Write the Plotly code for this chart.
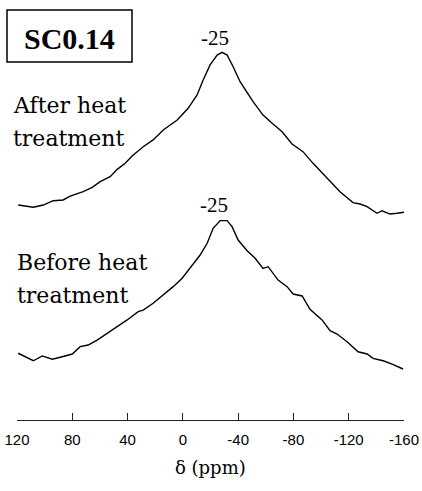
import plotly.graph_objects as go

# chemical shift (ppm) and intensities (a.u.)
after_ppm = [119.1, 108.2, 101.0, 93.8, 86.6, 81.5, 72.1, 65.6, 59.8, 52.6, 47.5, 41.7, 36.7, 32.3,
             28.7, 21.5, 14.2, 4.1, -3.8, -10.3, -14.7, -19.7, -24.8, -28.4, -32.0, -36.4, -41.4,
             -50.8, -58.0, -64.6, -71.8, -79.0, -86.9, -94.2, -104.3, -113.7, -123.1, -128.2,
             -133.3, -140.5, -144.1, -149.9, -154.9, -160.0]
after_int = [0.033, 0.018, 0.033, 0.062, 0.067, 0.093, 0.122, 0.151, 0.189, 0.222, 0.271, 0.311,
             0.360, 0.393, 0.422, 0.467, 0.533, 0.600, 0.678, 0.767, 0.867, 0.967, 1.033, 1.051,
             1.033, 0.955, 0.855, 0.722, 0.633, 0.578, 0.522, 0.440, 0.389, 0.311, 0.211, 0.122,
             0.049, 0.040, 0.022, -0.022, -0.005, -0.027, -0.022, -0.015]

before_ppm = [119.1, 108.2, 101.7, 94.5, 87.3, 80.0, 74.3, 68.5, 62.0, 54.7, 47.5, 40.3, 32.3, 28.7,
              21.5, 14.2, 7.0, 0.5, -5.3, -12.5, -17.6, -21.9, -27.0, -32.0, -35.6, -40.0, -46.5,
              -52.3, -58.0, -61.7, -68.9, -75.4, -79.8, -86.3, -92.0, -100.7, -106.5, -111.6,
              -118.8, -126.8, -133.3, -137.6, -144.9, -151.4, -159.3]
before_int = [0.045, -0.005, 0.027, 0.005, 0.022, 0.040, 0.089, 0.100, 0.133, 0.178, 0.222, 0.267,
              0.322, 0.333, 0.378, 0.433, 0.489, 0.545, 0.611, 0.700, 0.778, 0.878, 0.929, 0.929,
              0.889, 0.800, 0.729, 0.678, 0.611, 0.622, 0.533, 0.489, 0.440, 0.427, 0.338, 0.267,
              0.195, 0.173, 0.122, 0.055, 0.040, 0.011, -0.005, -0.027, -0.060]

after_offset = 1.4
before_offset = 0.4

x_ticks = [120, 80, 40, 0, -40, -80, -120, -160]
x_tick_labels = ["120", "80", "40", "0", "-40", "-80", "-120", "-160"]

peak_label = "-25"
sample_label = "SC0.14"

fig = go.Figure()
fig.add_trace(go.Scatter(x=after_ppm, y=[v + after_offset for v in after_int], mode="lines",
                         line=dict(color="black", width=1.4), showlegend=False, hoverinfo="skip"))
fig.add_trace(go.Scatter(x=before_ppm, y=[v + before_offset for v in before_int], mode="lines",
                         line=dict(color="black", width=1.4), showlegend=False, hoverinfo="skip"))

serif = "DejaVu Serif"

def ann(text, x, y, size, family=serif, xanchor="center", bold=False, xref="x", yref="y"):
    fig.add_annotation(text=("<b>%s</b>" % text) if bold else text, x=x, y=y, xref=xref, yref=yref,
                       showarrow=False, xanchor=xanchor, yanchor="middle",
                       font=dict(family=family, size=size, color="black"))

# peak labels
ann(peak_label, -23, 2.547, 21, family="Liberation Serif")
ann(peak_label, -22.5, 1.433, 21, family="Liberation Serif")

# spectrum labels (paper coordinates)
def py2paper(py):
    return (420 - py) / 420

def px2paper(px):
    return (px - 17) / 387

ann("After heat", px2paper(11), py2paper(105), 22, xanchor="left", xref="paper", yref="paper")
ann("treatment", px2paper(11), py2paper(138), 22, xanchor="left", xref="paper", yref="paper")
ann("Before heat", px2paper(15), py2paper(262), 22, xanchor="left", xref="paper", yref="paper")
ann("treatment", px2paper(15), py2paper(295), 22, xanchor="left", xref="paper", yref="paper")

# sample box
fig.add_shape(type="rect", xref="paper", yref="paper",
              x0=px2paper(7), x1=px2paper(132), y0=py2paper(62), y1=py2paper(10),
              line=dict(color="black", width=1.5))
ann(sample_label, px2paper(69.5), py2paper(38), 30, family="Liberation Serif", bold=True,
    xref="paper", yref="paper")

# axis title
ann("δ (ppm)", 0.5, py2paper(467), 18, xref="paper", yref="paper")

fig.update_layout(
    width=422, height=491,
    margin=dict(l=17, r=18, t=0, b=71),
    paper_bgcolor="white", plot_bgcolor="white",
    xaxis=dict(range=[120, -160], tickvals=x_ticks, ticktext=x_tick_labels,
               showgrid=False, zeroline=False, showline=True, linecolor="#222", linewidth=1.2,
               ticks="inside", ticklen=7, tickwidth=1.2, tickcolor="#222",
               tickfont=dict(family="Liberation Sans", size=15, color="black"),
               ticklabelstandoff=6),
    yaxis=dict(range=[0, 2.8], visible=False, showgrid=False, zeroline=False),
)

fig.write_html("out.html")
